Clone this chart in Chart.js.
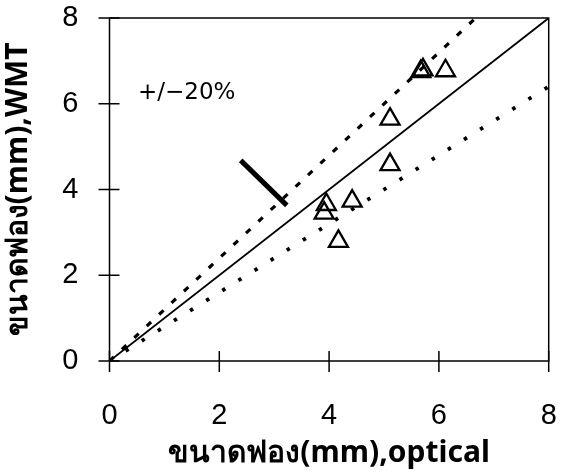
<!DOCTYPE html>
<html>
<head>
<meta charset="utf-8">
<script src="https://cdn.jsdelivr.net/npm/chart.js@4.4.0/dist/chart.umd.min.js"></script>
<style>
	html, body { margin: 0; padding: 0; background: #fff; overflow: hidden; }
	#wrap { width: 562px; height: 473px; }
</style>
</head>
<body>
<div id="wrap"><canvas id="grafico"></canvas></div>
<script>
// puntos medidos (optical vs WMT)
const opticalX = [3.91, 3.95, 4.17, 4.42, 5.11, 5.11, 5.67, 5.71, 6.12];
const wmtY = [3.45, 3.65, 2.79, 3.73, 4.58, 5.64, 6.75, 6.79, 6.77];

// lineas de referencia
const igualX = [0, 8];
const igualY = [0, 8];
const masX = [0, 6.67];
const masY = [0, 8];
const menosX = [0, 8];
const menosY = [0, 6.4];
const flechaX = [2.39, 3.23];
const flechaY = [4.68, 3.63];

const tickValues = [0, 2, 4, 6, 8];
const etiqueta = "+/\u221220%";
const tituloX = "ขนาดฟอง(mm),optical";
const tituloY = "ขนาดฟอง(mm),WMT";

function puntos(xs, ys){
	let out = [];
	xs.forEach((x, i) => {
		out.push({x: x, y: ys[i]});
	});
	return out;
}

// marco, ticks que cruzan el eje y el texto +/-20%
const marco = {
	id: 'marco',
	afterDraw(chart){
		const ctx = chart.ctx;
		const a = chart.chartArea;
		const sx = chart.scales.x;
		const sy = chart.scales.y;
		ctx.save();
		ctx.strokeStyle = '#000';
		ctx.lineWidth = 1.5;
		ctx.strokeRect(a.left, a.top, a.right - a.left, a.bottom - a.top);
		ctx.beginPath();
		tickValues.forEach(v => {
			const px = sx.getPixelForValue(v);
			ctx.moveTo(px, a.bottom - 10);
			ctx.lineTo(px, a.bottom + 11);
			const py = sy.getPixelForValue(v);
			ctx.moveTo(a.left - 11, py);
			ctx.lineTo(a.left + 10, py);
		});
		ctx.stroke();
		ctx.fillStyle = '#000';
		ctx.font = '23px "DejaVu Sans"';
		ctx.textBaseline = 'middle';
		ctx.fillText(etiqueta, sx.getPixelForValue(0.52), sy.getPixelForValue(6.25));
		ctx.restore();
	}
};

const data = {
	datasets: [{
		label: 'datos',
		data: puntos(opticalX, wmtY),
		pointStyle: 'triangle',
		pointRadius: 11,
		pointBorderWidth: 2.3,
		borderColor: '#000',
		backgroundColor: 'rgba(0,0,0,0)',
		showLine: false
	},{
		label: '1:1',
		data: puntos(igualX, igualY),
		showLine: true,
		pointRadius: 0,
		borderColor: '#000',
		borderWidth: 1.8
	},{
		label: '+20%',
		data: puntos(masX, masY),
		showLine: true,
		pointRadius: 0,
		borderColor: '#000',
		borderWidth: 3.2,
		borderDash: [6, 11]
	},{
		label: '-20%',
		data: puntos(menosX, menosY),
		showLine: true,
		pointRadius: 0,
		borderColor: '#000',
		borderWidth: 3.8,
		borderDash: [3.5, 15.5]
	},{
		label: 'flecha',
		data: puntos(flechaX, flechaY),
		showLine: true,
		pointRadius: 0,
		borderColor: '#000',
		borderWidth: 5
	}]
};

const config = {
	type: 'scatter',
	data: data,
	options: {
		responsive: true,
		maintainAspectRatio: false,
		animation: false,
		layout: {
			padding: { top: 18, right: 10, left: 0, bottom: 0 }
		},
		plugins: {
			legend: { display: false },
			tooltip: { enabled: false }
		},
		scales: {
			x: {
				type: 'linear',
				min: 0,
				max: 8,
				afterFit: (s) => { s.height = 112; s.paddingLeft = 0; s.paddingRight = 0; },
				ticks: {
					stepSize: 2,
					color: '#000',
					padding: 30,
					font: { family: '"Liberation Sans"', size: 29 }
				},
				grid: { display: false },
				border: { display: false },
				title: {
					display: true,
					text: tituloX,
					color: '#000',
					padding: { top: 0, bottom: 2 },
					font: { family: '"Noto Sans", "DejaVu Sans", sans-serif', size: 30, weight: 'bold' }
				}
			},
			y: {
				type: 'linear',
				min: 0,
				max: 8,
				afterFit: (s) => { s.width = 109.5; s.paddingTop = 0; s.paddingBottom = 0; },
				ticks: {
					stepSize: 2,
					color: '#000',
					padding: 23,
					font: { family: '"Liberation Sans"', size: 29 }
				},
				grid: { display: false },
				border: { display: false },
				title: {
					display: true,
					text: tituloY,
					color: '#000',
					padding: { top: 0, bottom: 0 },
					font: { family: '"Noto Sans", "DejaVu Sans", sans-serif', size: 30, weight: 'bold' }
				}
			}
		}
	},
	plugins: [marco]
};

const grafico = new Chart(document.getElementById('grafico'), config);
</script>
</body>
</html>
